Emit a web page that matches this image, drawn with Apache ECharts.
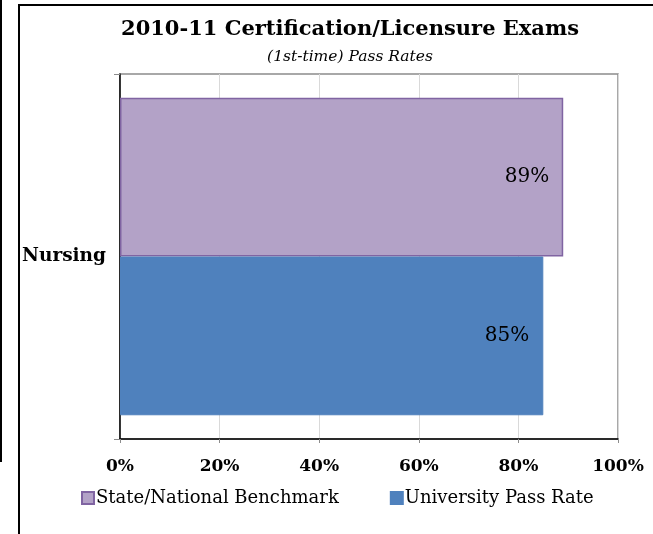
<!DOCTYPE html>
<html><head><meta charset="utf-8">
<script src="https://cdn.jsdelivr.net/npm/echarts@6/dist/echarts.min.js"></script>
<style>html,body{margin:0;padding:0;background:#fff}#c{width:653px;height:534px}</style>
</head><body><div id="c"></div>
<script>
const categories = ['Nursing'];
const benchmark = [89];
const university = [85];
const xTicks = [0, 20, 40, 60, 80, 100];
const FONT = 'DejaVu Serif';

const chart = echarts.init(document.getElementById('c'), null, {renderer: 'canvas'});
chart.setOption({
  animation: false,
  backgroundColor: '#fff',
  title: {
    text: '2010-11 Certification/Licensure Exams',
    subtext: '(1st-time) Pass Rates',
    left: 345, textAlign: 'center', top: 14, itemGap: 9,
    textStyle: {fontFamily: FONT, fontWeight: 'bold', fontSize: 21, color: '#000'},
    subtextStyle: {fontFamily: FONT, fontStyle: 'italic', fontSize: 15.5, color: '#000'}
  },
  legend: {
    data: ['State/National Benchmark', 'University Pass Rate'],
    top: 484, left: 76, itemGap: 51, itemWidth: 12, itemHeight: 12,
    icon: 'rect',
    textStyle: {fontFamily: FONT, fontSize: 18, color: '#000', padding: [0, 0, 0, -3]}
  },
  grid: {left: 120, right: 35, top: 74, bottom: 95, show: true, borderColor: '#8c8c8c', borderWidth: 1.5, backgroundColor: 'transparent'},
  xAxis: {
    type: 'value', min: xTicks[0], max: xTicks[xTicks.length - 1], interval: xTicks[1] - xTicks[0],
    axisLine: {show: true, lineStyle: {color: '#000', width: 1.5}},
    axisTick: {show: true, length: 4, lineStyle: {color: '#8c8c8c'}},
    splitLine: {show: true, lineStyle: {color: '#d9d9d9'}},
    axisLabel: {margin: 19, fontFamily: FONT, fontWeight: 'bold', fontSize: 17, color: '#000', formatter: v => v + '%'}
  },
  yAxis: {
    type: 'category', data: categories,
    axisLine: {show: true, lineStyle: {color: '#000', width: 1.5}},
    axisTick: {show: true, length: 6, lineStyle: {color: '#8c8c8c'}},
    axisLabel: {margin: 14, fontFamily: FONT, fontWeight: 'bold', fontSize: 18.5, color: '#000'}
  },
  series: [
    {
      name: 'State/National Benchmark', type: 'bar', data: benchmark,
      barCategoryGap: '13%', barGap: '0%',
      itemStyle: {color: '#B3A2C7', borderColor: '#8064A2', borderWidth: 1.5},
      label: {show: true, position: 'insideRight', distance: 14, fontFamily: FONT, fontSize: 20, color: '#000', formatter: p => p.value + '%'}
    },
    {
      name: 'University Pass Rate', type: 'bar', data: university,
      barCategoryGap: '13%', barGap: '0%',
      itemStyle: {color: '#4F81BD', borderColor: '#4F81BD', borderWidth: 1},
      label: {show: true, position: 'insideRight', distance: 14, fontFamily: FONT, fontSize: 20, color: '#000', formatter: p => p.value + '%'}
    }
  ],
  graphic: [
    {type: 'rect', shape: {x: 0, y: 0, width: 2, height: 462}, style: {fill: '#000'}, silent: true},
    {type: 'polyline', shape: {points: [[19, 534], [19, 5], [653, 5]]}, style: {stroke: '#000', lineWidth: 2, fill: null}, silent: true}
  ]
});
</script></body></html>
